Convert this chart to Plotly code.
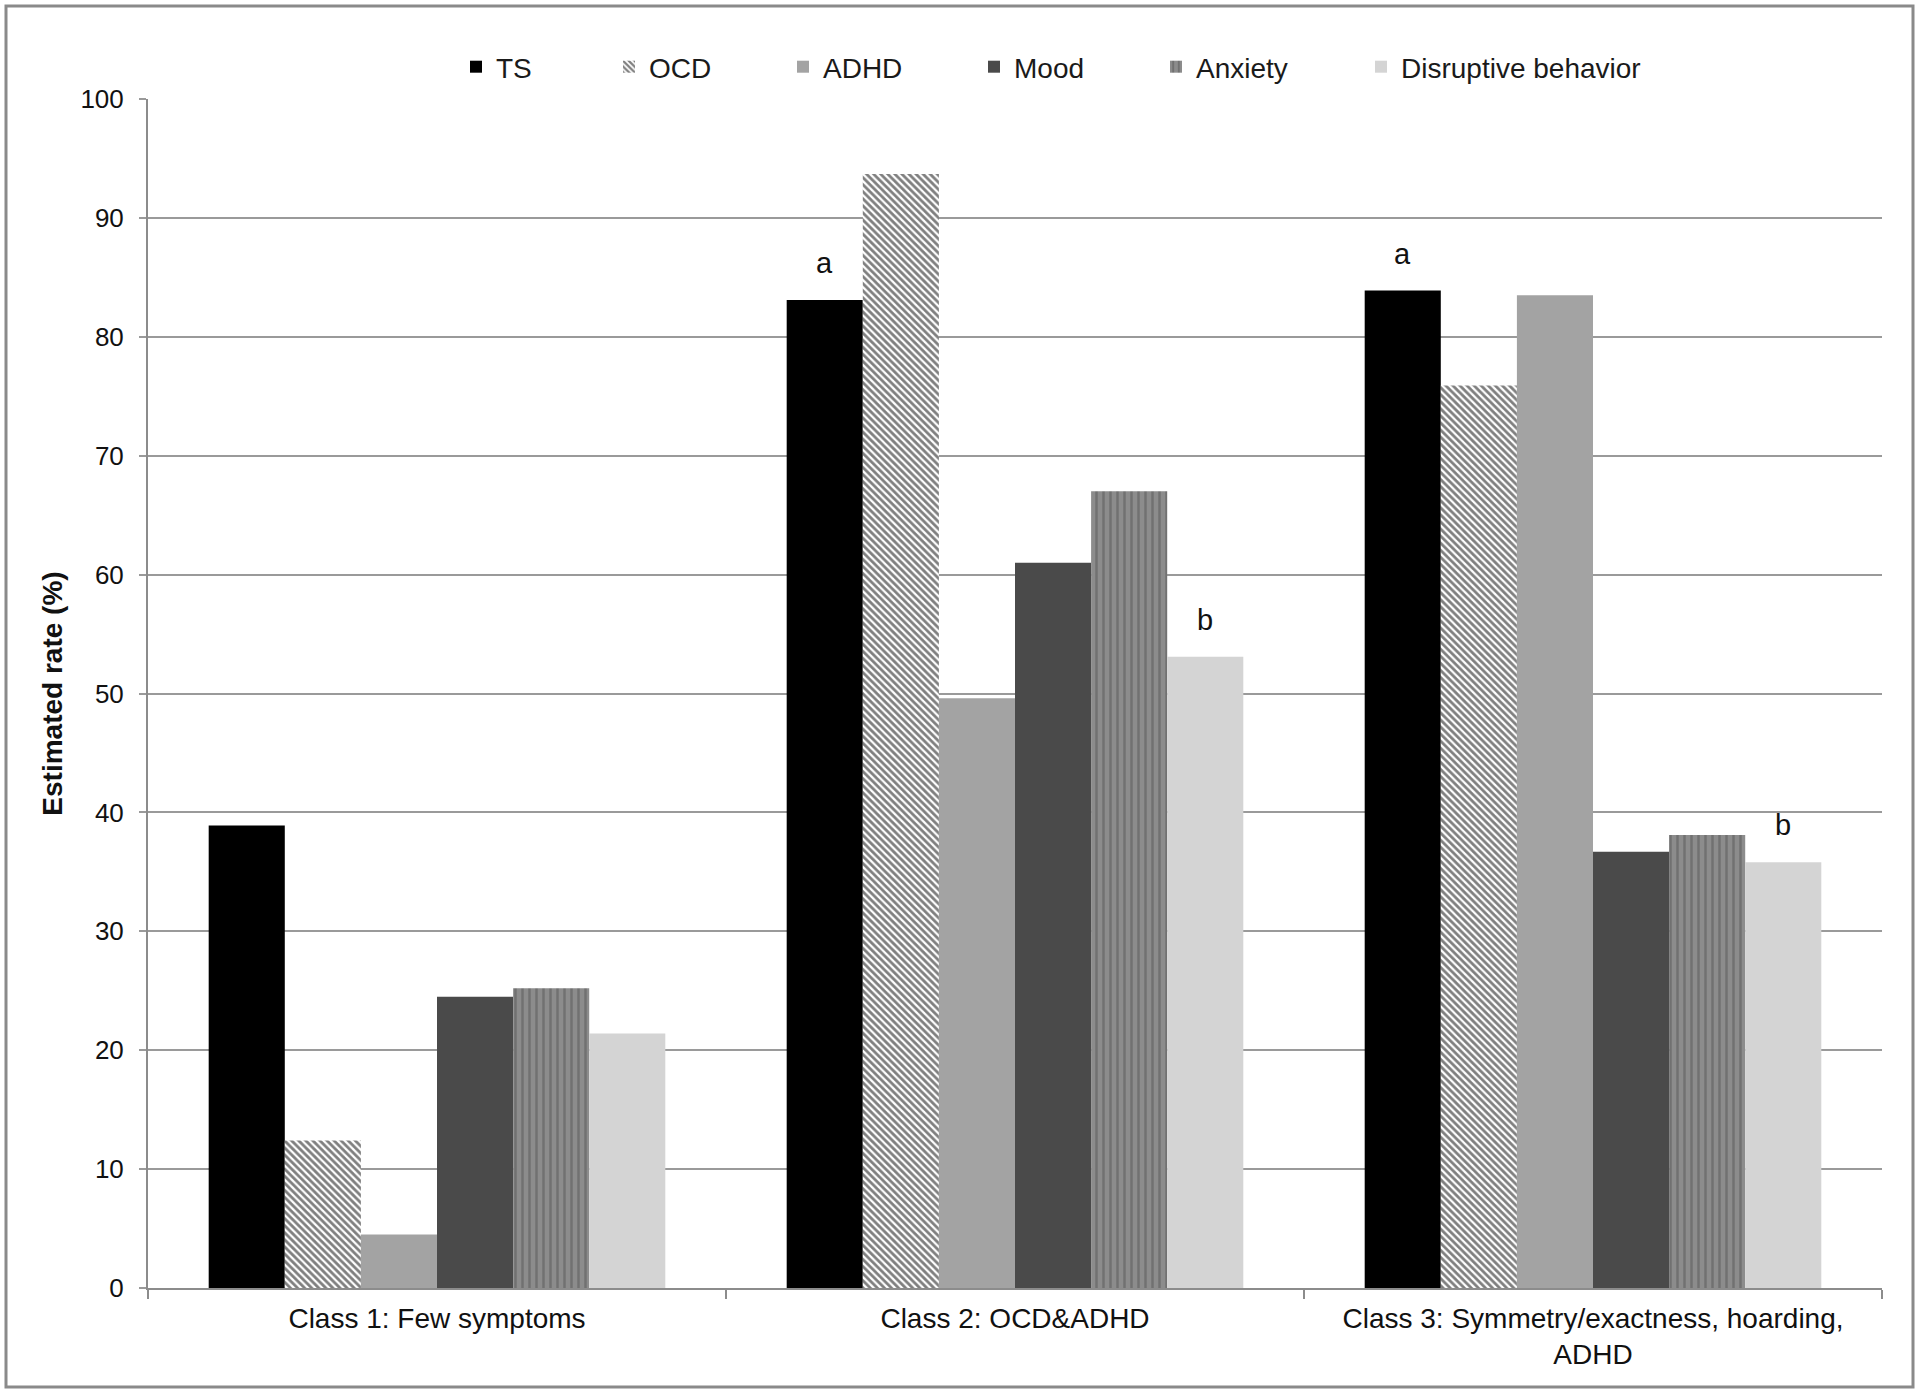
import plotly.graph_objects as go

categories = ["Class 1: Few symptoms", "Class 2: OCD&ADHD", "Class 3: Symmetry/exactness, hoarding,<br>ADHD"]
series_names = ["TS", "OCD", "ADHD", "Mood", "Anxiety", "Disruptive behavior"]
ts = [38.9, 83.1, 83.9]
ocd = [12.4, 93.7, 75.9]
adhd = [4.5, 49.6, 83.5]
mood = [24.5, 61.0, 36.7]
anxiety = [25.2, 67.0, 38.1]
disruptive = [21.4, 53.1, 35.8]
series_values = [ts, ocd, adhd, mood, anxiety, disruptive]

y_ticks = list(range(0, 101, 10))

annot_text = ["a", "a", "b", "b"]
annot_series = [0, 0, 5, 5]
annot_cat = [1, 2, 1, 2]

FONT = "Liberation Sans, Arial, sans-serif"
W, H = 1920, 1394
ML, MR, MT, MB = 148, 38, 99, 106
BARGAP = 0.21

colors = ["#000000", "#ffffff", "#a3a3a3", "#4a4a4a", "#8a8a8a", "#d4d4d4"]
patterns = [
    dict(shape=""),
    dict(shape="\\", fgcolor="#000000", bgcolor="#ffffff", size=5, solidity=0.55, fillmode="overlay"),
    dict(shape=""),
    dict(shape=""),
    dict(shape="|", fgcolor="#555555", bgcolor="#8c8c8c", size=7, solidity=0.35, fillmode="overlay"),
    dict(shape=""),
]

# legend text start positions (px)
legend_text_px = [496, 649, 823, 1014, 1196, 1401]
pw = W - ML - MR
ph = H - MT - MB

fig = go.Figure()
for i, (name, vals) in enumerate(zip(series_names, series_values)):
    lname = "legend" if i == 0 else f"legend{i+1}"
    fig.add_trace(go.Bar(
        x=categories, y=vals, name=name,
        marker=dict(color=colors[i], pattern=patterns[i], line=dict(width=0)),
        legend=lname,
    ))

bar_w_px = pw / len(categories) * (1 - BARGAP) / len(series_names)
for t, s, c in zip(annot_text, annot_series, annot_cat):
    fig.add_annotation(
        x=categories[c], y=series_values[s][c] + 3.1, text=t, showarrow=False,
        xshift=(s - (len(series_names) - 1) / 2) * bar_w_px, yanchor="middle",
        font=dict(family=FONT, size=29, color="#111111"),
    )

layout_legends = {}
legend_y = (H - MB - 67) / ph
for i, px in enumerate(legend_text_px):
    key = "legend" if i == 0 else f"legend{i+1}"
    layout_legends[key] = dict(
        x=(px - 40 - ML) / pw, y=legend_y, xanchor="left", yanchor="middle",
        orientation="h", bgcolor="rgba(0,0,0,0)", borderwidth=0,
        font=dict(family=FONT, size=28, color="#1a1a1a"),
    )

fig.update_layout(
    width=W, height=H,
    margin=dict(l=ML, r=MR, t=MT, b=MB, autoexpand=False),
    paper_bgcolor="white", plot_bgcolor="white",
    barmode="group", bargap=BARGAP, bargroupgap=0,
    showlegend=True,
    font=dict(family=FONT, size=26, color="#1a1a1a"),
    xaxis=dict(
        type="category", showgrid=False, showline=True, linecolor="#8c8c8c", linewidth=2,
        ticks="outside", tickson="boundaries", ticklen=9, tickcolor="#8c8c8c", tickwidth=2,
        ticklabelstandoff=4,
        tickfont=dict(family=FONT, size=28, color="#111111"),
    ),
    yaxis=dict(
        range=[0, 100], tickvals=y_ticks, showgrid=True, gridcolor="#9a9a9a", gridwidth=2,
        showline=True, linecolor="#8c8c8c", linewidth=2, zeroline=False,
        ticks="outside", ticklen=7, tickcolor="#9a9a9a", tickwidth=2,
        ticklabelstandoff=10,
        tickfont=dict(family=FONT, size=26, color="#111111"),
        title=dict(text="<b>Estimated rate (%)</b>", standoff=10,
                   font=dict(family=FONT, size=28, color="#111111")),
    ),
    shapes=[dict(
        type="rect", xref="paper", yref="paper",
        x0=(6 - ML) / pw, x1=(1913 - ML) / pw,
        y0=(H - MB - 1387) / ph, y1=(H - MB - 6) / ph,
        line=dict(color="#8a8a8a", width=3), fillcolor="rgba(0,0,0,0)", layer="below",
    )],
    **layout_legends,
)

fig.write_html("out.html", config={"displayModeBar": False},
               post_script="document.body.style.margin='0';")
